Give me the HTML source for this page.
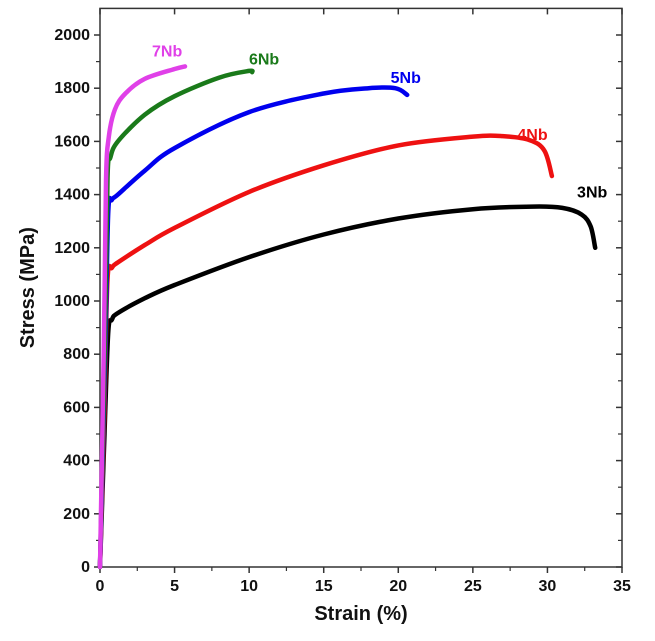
<!DOCTYPE html>
<html><head><meta charset="utf-8"><style>body{margin:0;background:#fff}svg{font-family:"Liberation Sans",sans-serif;font-weight:bold}</style></head>
<body>
<svg id="chart" width="655" height="636" xmlns="http://www.w3.org/2000/svg"></svg>
<script>
const xTicks=[0,5,10,15,20,25,30,35];
const yTicks=[0,200,400,600,800,1000,1200,1400,1600,1800,2000];
const s3x=[0,0.3,0.55,0.8,1.2,3,5,10,15,20,25,29,31,32.3,32.9,33.2];
const s3y=[0,500,880,930,955,1010,1060,1165,1250,1310,1345,1355,1350,1325,1280,1200];
const s4x=[0,0.3,0.5,0.8,1.2,3,5,10,15,20,25,27,28.8,29.8,30.3];
const s4y=[0,600,1080,1125,1145,1210,1275,1410,1510,1585,1618,1620,1605,1565,1470];
const s5x=[0,0.35,0.55,0.8,1.2,3,5,10,15,18,19.8,20.6];
const s5y=[0,800,1330,1380,1400,1490,1575,1710,1780,1800,1800,1775];
const s6x=[0,0.35,0.5,0.7,1.2,3,5,8,10,10.2];
const s6y=[0,900,1460,1540,1600,1700,1770,1840,1865,1860];
const s7x=[0,0.25,0.4,0.6,1,1.7,3,5,5.7];
const s7y=[0,800,1450,1620,1720,1780,1835,1872,1882];
const names=["3Nb","4Nb","5Nb","6Nb","7Nb"];
const colors=["#000","#ee1111","#0000ee","#1a7a1a","#e040e8"];
const labelPos=[[33,1390],[29,1605],[20.5,1820],[11,1890],[4.5,1920]];
const X0=100,X1=622,Y0=567,Y1=35;
const sx=v=>X0+(X1-X0)*v/35, sy=v=>Y0-(Y0-Y1)*v/2000;
const svg=document.getElementById('chart');const NS="http://www.w3.org/2000/svg";
function el(t,a,p){const e=document.createElementNS(NS,t);for(const k in a)e.setAttribute(k,a[k]);(p||svg).appendChild(e);return e;}
const frame=el('rect',{x:X0,y:sy(2100),width:X1-X0,height:Y0-sy(2100),fill:'none',stroke:'#333','stroke-width':1.5});


xTicks.forEach(t=>{const x=sx(t);
 el('line',{x1:x,x2:x,y1:Y0,y2:Y0+6,stroke:'#333','stroke-width':1.5});
 el('line',{x1:x,x2:x,y1:sy(2100),y2:sy(2100)+6,stroke:'#333','stroke-width':1.5});
 if(t<35){const m=sx(t+2.5);el('line',{x1:m,x2:m,y1:Y0,y2:Y0+4,stroke:'#333','stroke-width':1.2});}
 const tx=el('text',{x:x,y:Y0+24,'text-anchor':'middle','font-size':16,fill:'#111'});tx.textContent=t;
 
 
});
yTicks.forEach(t=>{const y=sy(t);
 el('line',{x1:X0-6,x2:X0,y1:y,y2:y,stroke:'#333','stroke-width':1.5});
 el('line',{x1:X1-6,x2:X1,y1:y,y2:y,stroke:'#333','stroke-width':1.5});
 if(t<2000){const m=sy(t+100);el('line',{x1:X0-4,x2:X0,y1:m,y2:m,stroke:'#333','stroke-width':1.2});el('line',{x1:X1-4,x2:X1,y1:m,y2:m,stroke:'#333','stroke-width':1.2});}
 const tx=el('text',{x:X0-10,y:y+5,'text-anchor':'end','font-size':16,fill:'#111'});tx.textContent=t;
 
 
});
const xt=el('text',{x:(X0+X1)/2,y:620,'text-anchor':'middle','font-size':20,fill:'#111'});xt.textContent='Strain (%)';


const yt=el('text',{x:0,y:0,'text-anchor':'middle','font-size':20,fill:'#111',transform:`translate(34,${(Y0+sy(2100))/2}) rotate(-90)`});yt.textContent='Stress (MPa)';


function smooth(P){let d='M'+P[0][0].toFixed(1)+','+P[0][1].toFixed(1);
 for(let i=0;i<P.length-1;i++){const p0=P[i-1]||P[i],p1=P[i],p2=P[i+1],p3=P[i+2]||p2;
  const c1=[p1[0]+(p2[0]-p0[0])/6,p1[1]+(p2[1]-p0[1])/6],c2=[p2[0]-(p3[0]-p1[0])/6,p2[1]-(p3[1]-p1[1])/6];
  d+=`C${c1[0].toFixed(1)},${c1[1].toFixed(1)} ${c2[0].toFixed(1)},${c2[1].toFixed(1)} ${p2[0].toFixed(1)},${p2[1].toFixed(1)}`;}
 return d;}
const series=[[s3x,s3y],[s4x,s4y],[s5x,s5y],[s6x,s6y],[s7x,s7y]];
series.forEach((s,i)=>{
 const P=s[0].map((v,j)=>[sx(v),sy(s[1][j])]);
 const p=el('path',{d:smooth(P),fill:'none',stroke:colors[i],'stroke-width':4.5,'stroke-linejoin':'round','stroke-linecap':'round'});
 
 
 const t=el('text',{x:sx(labelPos[i][0]),y:sy(labelPos[i][1]),'text-anchor':'middle','font-size':16,fill:colors[i]});t.textContent=names[i];
 
 
});
</script>
</body></html>
